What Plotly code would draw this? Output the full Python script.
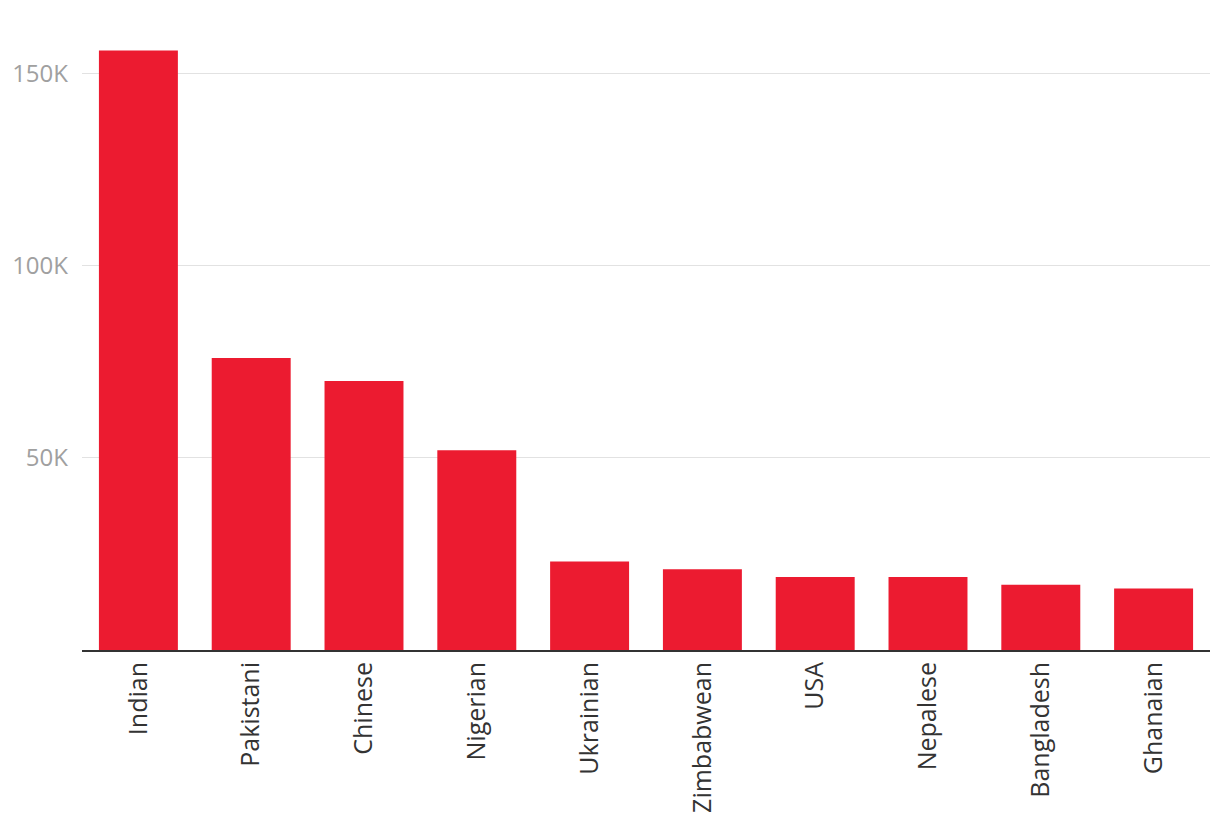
import plotly.graph_objects as go

categories = ["Indian", "Pakistani", "Chinese", "Nigerian", "Ukrainian",
              "Zimbabwean", "USA", "Nepalese", "Bangladesh", "Ghanaian"]
values = [156000, 76000, 70000, 52000, 23000, 21000, 19000, 19000, 17000, 16000]
tick_vals = [50000, 100000, 150000]
tick_text = ["50K", "100K", "150K"]

fig = go.Figure(go.Bar(x=categories, y=values, marker_color="#EC1B30",
                       marker_line_width=0, hoverinfo="x+y"))

fig.update_layout(
    width=1212, height=824,
    margin=dict(l=74, r=10, t=27, b=182, pad=0, autoexpand=False),
    paper_bgcolor="white", plot_bgcolor="white",
    bargap=0.3, showlegend=False,
    font=dict(family="'Open Sans', sans-serif"),
)
fig.update_xaxes(
    tickangle=-90, tickfont=dict(size=25, color="#333333"),
    showline=True, linecolor="#333333", linewidth=2,
    showgrid=False, ticks="", ticklabelstandoff=0, automargin=False,
)
fig.update_yaxes(
    range=[0, 160000], tickvals=tick_vals, ticktext=tick_text,
    tickfont=dict(size=24, color="#a0a0a0"),
    showgrid=True, gridcolor="#e2e2e2", gridwidth=1,
    zeroline=False, showline=False, ticks="", ticklabelstandoff=13,
    automargin=False,
)

fig.write_html("out.html")
